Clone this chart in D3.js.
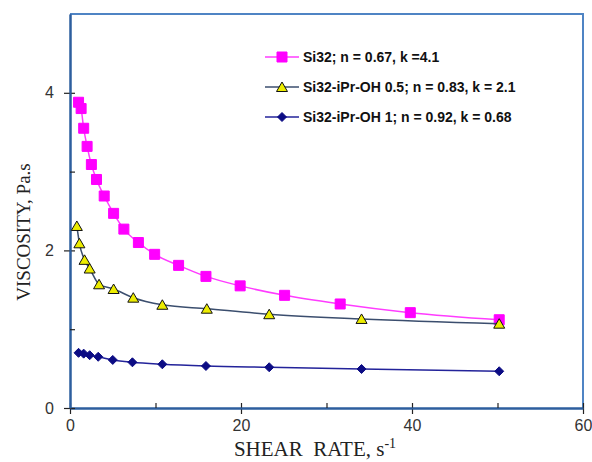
<!DOCTYPE html>
<html>
<head>
<meta charset="utf-8">
<script src="https://cdn.jsdelivr.net/npm/d3@7"></script>
<style>
  body { margin: 0; background: #fff; }
  svg { display: block; }
</style>
</head>
<body>
<script>
// values
var shearSi32 = [1.0, 1.3, 1.6, 2.0, 2.5, 3.1, 4.0, 5.1, 6.3, 8.0, 9.9, 12.7, 15.9, 19.9, 25.1, 31.6, 39.8, 50.2];
var viscSi32  = [3.88, 3.80, 3.55, 3.32, 3.09, 2.90, 2.69, 2.47, 2.27, 2.10, 1.95, 1.81, 1.67, 1.55, 1.43, 1.32, 1.21, 1.12];

var shearIPr05 = [0.8, 1.1, 1.7, 2.3, 3.4, 5.1, 7.4, 10.8, 16.0, 23.3, 34.1, 50.2];
var viscIPr05  = [2.31, 2.09, 1.88, 1.77, 1.57, 1.51, 1.40, 1.31, 1.26, 1.19, 1.13, 1.07];

var shearIPr1 = [1.0, 1.6, 2.3, 3.3, 5.0, 7.3, 10.8, 15.9, 23.3, 34.1, 50.2];
var viscIPr1  = [0.70, 0.69, 0.67, 0.65, 0.61, 0.58, 0.555, 0.533, 0.517, 0.495, 0.466];

var seriesNames = ["Si32; n = 0.67, k =4.1", "Si32-iPr-OH 0.5; n = 0.83, k = 2.1", "Si32-iPr-OH 1; n = 0.92, k = 0.68"];

var xMajor = [0, 20, 40, 60];
var xMinor = [10, 30, 50];
var yMajor = [0, 2, 4];
var yMinor = [1, 3];

var width = 592, height = 462;
var plot = {left: 70, right: 583, top: 14, bottom: 408};

var x = d3.scaleLinear().domain([0, 60]).range([plot.left, plot.right]);
var y = d3.scaleLinear().domain([0, 5]).range([plot.bottom, plot.top]);

var svg = d3.select("body").append("svg")
    .attr("width", width)
    .attr("height", height);

// frame (top and right in light blue)
svg.append("path")
    .attr("d", "M" + plot.left + "," + plot.top + "H" + plot.right + "V" + plot.bottom)
    .attr("fill", "none")
    .attr("stroke", "#4f84c4")
    .attr("stroke-width", 2);

//x axis: major ticks cross the line, minor ticks point inward
var xAxis = svg.append("g")
    .attr("transform", "translate(0," + plot.bottom + ")")
    .call(d3.axisBottom(x).tickValues(xMajor).tickFormat(d3.format("d")).tickSizeInner(6).tickSizeOuter(0).tickPadding(6));
xAxis.selectAll(".tick line").attr("y1", -5);
var xAxisMinor = svg.append("g")
    .attr("transform", "translate(0," + plot.bottom + ")")
    .call(d3.axisTop(x).tickValues(xMinor).tickSize(5).tickSizeOuter(0).tickFormat(""));

var yAxis = svg.append("g")
    .attr("transform", "translate(" + plot.left + ",0)")
    .call(d3.axisLeft(y).tickValues(yMajor).tickFormat(d3.format("d")).tickSizeInner(6).tickSizeOuter(0).tickPadding(10));
yAxis.selectAll(".tick line").attr("x1", 5);
var yAxisMinor = svg.append("g")
    .attr("transform", "translate(" + plot.left + ",0)")
    .call(d3.axisRight(y).tickValues(yMinor).tickSize(5).tickSizeOuter(0).tickFormat(""));

[xAxis, xAxisMinor, yAxis, yAxisMinor].forEach(function(g){
    g.select(".domain").attr("stroke", "#2d5e9e").attr("stroke-width", 2);
    g.selectAll(".tick line").attr("stroke", "#222").attr("stroke-width", 1.2);
    g.selectAll(".tick text")
        .attr("font-family", "Arial, 'Liberation Sans', sans-serif")
        .attr("font-size", 16)
        .attr("fill", "#333");
});

// axis titles
var xTitle = svg.append("text")
    .attr("x", 315)
    .attr("y", 456)
    .attr("text-anchor", "middle")
    .attr("font-family", "'Times New Roman', 'Liberation Serif', serif")
    .attr("font-size", 21)
    .attr("fill", "#222")
    .attr("xml:space", "preserve")
    .text("SHEAR  RATE, s");
xTitle.append("tspan")
    .attr("dy", -8)
    .attr("font-size", 14)
    .text("-1");

svg.append("text")
    .attr("transform", "translate(30,232) rotate(-90)")
    .attr("text-anchor", "middle")
    .attr("font-family", "'Times New Roman', 'Liberation Serif', serif")
    .attr("font-size", 19)
    .attr("fill", "#222")
    .text("VISCOSITY, Pa.s");

// series
var series = [
    {name: seriesNames[0], xs: shearSi32, ys: viscSi32, line: "#ff3cff", marker: "square", fill: "#ff00ff", stroke: "#ff00ff"},
    {name: seriesNames[1], xs: shearIPr05, ys: viscIPr05, line: "#3b4e6e", marker: "triangle", fill: "#ecec00", stroke: "#111"},
    {name: seriesNames[2], xs: shearIPr1, ys: viscIPr1, line: "#23239a", marker: "diamond", fill: "#0c0c84", stroke: "#0c0c84"}
];

function markerPath(type){
    if (type === "square") return "M-5,-5H5V5H-5Z";
    if (type === "triangle") return "M0,-5L5.5,4.5H-5.5Z";
    return "M0,-4.5L4.5,0L0,4.5L-4.5,0Z";
}

var line = d3.line()
    .x(function(d){ return x(d[0]); })
    .y(function(d){ return y(d[1]); })
    .curve(d3.curveMonotoneX);

series.forEach(function(s){
    var pts = s.xs.map(function(v, i){ return [v, s.ys[i]]; });
    svg.append("path")
        .attr("d", line(pts))
        .attr("fill", "none")
        .attr("stroke", s.line)
        .attr("stroke-width", 1.5);
    svg.selectAll(null).data(pts).enter().append("path")
        .attr("d", markerPath(s.marker))
        .attr("transform", function(d){ return "translate(" + x(d[0]) + "," + y(d[1]) + ")"; })
        .attr("fill", s.fill)
        .attr("stroke", s.stroke)
        .attr("stroke-width", 1);
});

// legend
var legend = svg.append("g").attr("transform", "translate(265,57)");
series.forEach(function(s, i){
    var row = legend.append("g").attr("transform", "translate(0," + (i * 30) + ")");
    row.append("line")
        .attr("x1", 0).attr("x2", 34)
        .attr("stroke", s.line)
        .attr("stroke-width", 1.5);
    row.append("path")
        .attr("d", markerPath(s.marker))
        .attr("transform", "translate(17,0)")
        .attr("fill", s.fill)
        .attr("stroke", s.stroke);
    row.append("text")
        .attr("x", 38)
        .attr("dy", "0.35em")
        .attr("font-family", "Arial, 'Liberation Sans', sans-serif")
        .attr("font-weight", "bold")
        .attr("font-size", 14)
        .attr("fill", "#111")
        .text(s.name);
});
</script>
</body>
</html>
